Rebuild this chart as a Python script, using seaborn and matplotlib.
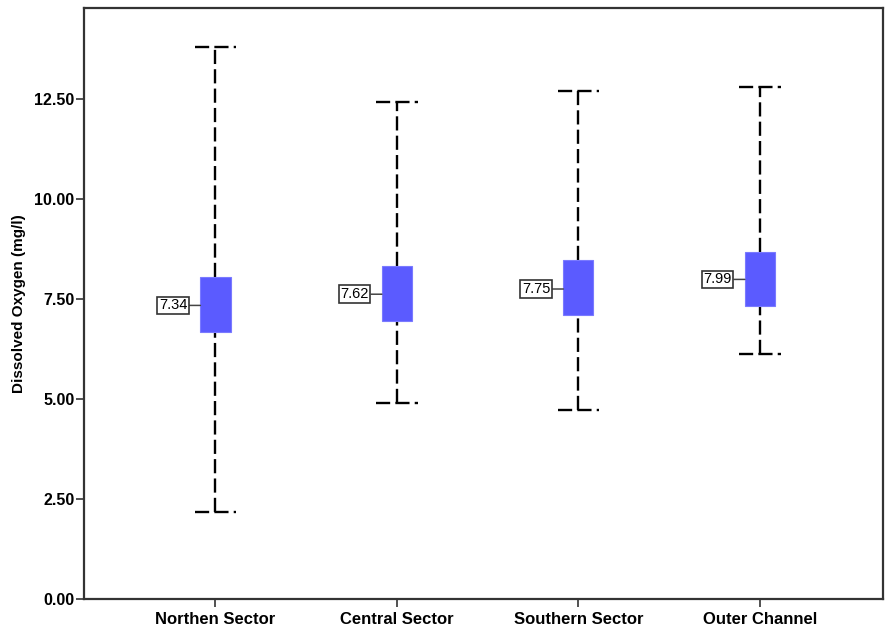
import matplotlib
matplotlib.use("Agg")
import matplotlib.pyplot as plt
import seaborn as sns
import pandas as pd

# Dissolved oxygen summary per sector (mg/l)
sectors = ["Northen Sector", "Central Sector", "Southern Sector", "Outer Channel"]
do_max = [13.80, 12.42, 12.70, 12.80]
do_min = [2.17, 4.90, 4.72, 6.12]
box_high = [8.06, 8.33, 8.47, 8.68]
box_low = [6.68, 6.96, 7.10, 7.33]
do_mean = [7.34, 7.62, 7.75, 7.99]
mean_labels = ["7.34", "7.62", "7.75", "7.99"]
y_ticks = [0.0, 2.5, 5.0, 7.5, 10.0, 12.5]

df = pd.DataFrame({
    "sector": sectors,
    "high": box_high,
    "low": box_low,
    "mean": do_mean,
    "max": do_max,
    "min": do_min,
})
df["span"] = df["high"] - df["low"]

sns.set_style("ticks")
plt.rcParams["font.family"] = ["Liberation Sans", "DejaVu Sans"]
plt.rcParams["text.color"] = "black"
plt.rcParams["xtick.color"] = "black"
plt.rcParams["ytick.color"] = "black"

fig = plt.figure(figsize=(8.85, 6.31), dpi=100)
ax = fig.add_axes([0.0949, 0.0507, 0.9977 - 0.0949, 0.9873 - 0.0507])

box_w = 0.166
cap_w = 0.23
dash = (0, (6, 2.2))

# floating boxes
sns.barplot(data=df, x="sector", y="span", bottom=df["low"].to_numpy(),
            color="#5b5bff", saturation=1, width=box_w, errorbar=None,
            edgecolor="#7a7aff", linewidth=0.8, ax=ax, zorder=3)

xs = list(range(len(sectors)))
# whiskers
ax.vlines(xs, df["high"], df["max"], colors="black", linestyles=dash, lw=1.7, zorder=2)
ax.vlines(xs, df["min"], df["low"], colors="black", linestyles=dash, lw=1.7, zorder=2)
# caps
for x, hi, lo in zip(xs, df["max"], df["min"]):
    ax.hlines([hi, lo], x - cap_w / 2, x + cap_w / 2, colors="black",
              linestyles=dash, lw=1.7, zorder=2)

# mean labels
for x, m, lab in zip(xs, df["mean"], mean_labels):
    ax.annotate(lab, xy=(x - box_w / 2, m), xytext=(-9.5, 0),
                textcoords="offset points", ha="right", va="center",
                fontsize=10.5, color="black",
                bbox=dict(boxstyle="square,pad=0.12", fc="white", ec="#333333", lw=1.2),
                arrowprops=dict(arrowstyle="-", color="#444444", lw=1.1,
                                shrinkA=0, shrinkB=0),
                zorder=4)

ax.set_xlim(-0.7245, 3.678)
ax.set_ylim(0, 14.775)
ax.set_yticks(y_ticks)
ax.set_yticklabels([f"{v:.2f}" for v in y_ticks], fontweight="bold", fontsize=11.5)
ax.set_xticks(xs)
ax.set_xticklabels(sectors, fontweight="bold", fontsize=12)
ax.set_xlabel("")
ax.set_ylabel("Dissolved Oxygen (mg/l)", fontweight="bold", fontsize=11,
              color="black", labelpad=6)
for s in ax.spines.values():
    s.set_visible(True)
    s.set_linewidth(1.6)
    s.set_color("#333333")
ax.tick_params(axis="both", direction="out", length=6, width=1.2, color="#333333", pad=1)
ax.tick_params(axis="x", pad=3)

fig.savefig("out.png", dpi=100)
